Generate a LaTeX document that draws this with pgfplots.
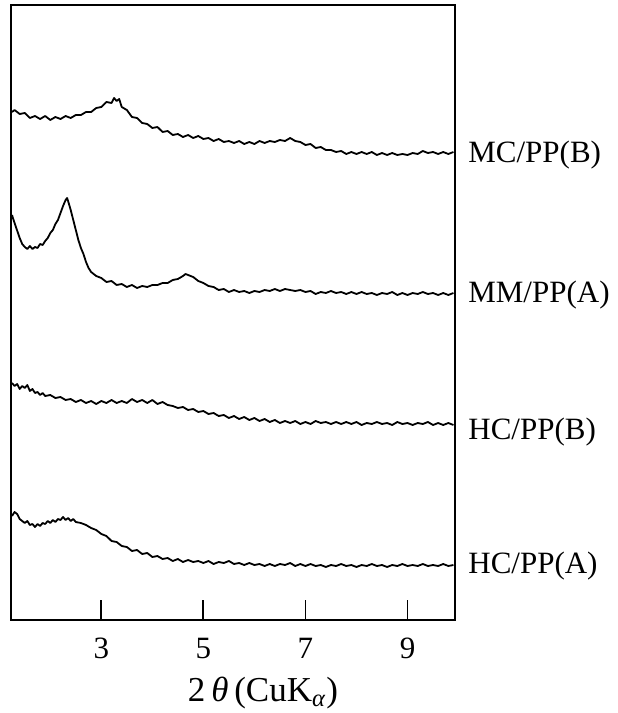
\documentclass[border=0pt]{standalone}
\usepackage{fontspec}
\setmainfont{Liberation Serif}
\usepackage{pgfplots}
\pgfplotsset{compat=1.18}

\newcommand{\lblfont}{\fontsize{15.5}{18}\selectfont}
\tikzset{trace/.style={black, no marks, line width=0.9pt, line join=round}}

\begin{document}
\begin{tikzpicture}
\path[use as bounding box] (-5.5pt,-46.5pt) rectangle (303pt,310pt);
\begin{axis}[
    at={(0,0)}, anchor=south west,
    scale only axis,
    width=222pt, height=307.5pt,
    xmin=1.23, xmax=9.93,
    ymin=80, ymax=695,
    xtick={3,5,7,9},
    ytick=\empty,
    xtick pos=left,
    tick align=inside,
    major tick length=10pt,
    tick style={line width=0.9pt, black},
    axis line style={line width=1pt},
    /pgf/number format/assume math mode=true,
    ticklabel style={font=\lblfont},
    xticklabel style={yshift=-5.5pt},
    xlabel={2\,\textit{θ}\,(CuK\textsubscript{\textit{α}})},
    xlabel style={font=\fontsize{17.5}{20}\selectfont, yshift=-2pt, xshift=15pt},
    clip=false,
]
% MC/PP(B)
\addplot[trace] coordinates {
(1.25,588) (1.3,590) (1.4,586) (1.5,587) (1.6,582) (1.7,584) (1.8,581) (1.9,584) (2.0,580) (2.1,583)
(2.2,581) (2.3,584) (2.4,582) (2.5,585) (2.6,585) (2.7,588) (2.8,588) (2.9,592) (3.0,593) (3.1,598)
(3.2,597) (3.25,602) (3.3,599) (3.35,601) (3.4,593) (3.5,590) (3.6,583) (3.7,582) (3.8,577) (3.9,576)
(4.0,572) (4.1,573) (4.2,568) (4.3,569) (4.4,565) (4.5,566) (4.6,563) (4.7,565) (4.8,562) (4.9,564)
(5.0,561) (5.1,562) (5.2,559) (5.3,561) (5.4,558) (5.5,559) (5.6,557) (5.7,559) (5.8,556) (5.9,558)
(6.0,556) (6.1,559) (6.2,557) (6.3,559) (6.4,558) (6.5,560) (6.6,559) (6.7,562) (6.8,559) (6.9,558)
(7.0,555) (7.1,556) (7.2,552) (7.3,553) (7.4,550) (7.5,550) (7.6,548) (7.7,549) (7.8,546) (7.9,548)
(8.0,546) (8.1,548) (8.2,546) (8.3,548) (8.4,545) (8.5,547) (8.6,545) (8.7,547) (8.8,545) (8.9,546)
(9.0,545) (9.1,547) (9.2,546) (9.3,549) (9.4,547) (9.5,548) (9.6,546) (9.7,548) (9.8,546) (9.9,548)
};
% MM/PP(A)
\addplot[trace] coordinates {
(1.25,485) (1.28,480) (1.32,474) (1.36,468) (1.4,462) (1.45,456) (1.5,453) (1.55,451) (1.6,454) (1.65,451)
(1.7,453) (1.75,452) (1.8,456) (1.85,455) (1.9,459) (1.95,462) (2.0,467) (2.05,470) (2.1,476) (2.15,480)
(2.2,487) (2.25,494) (2.3,500) (2.33,502) (2.36,497) (2.4,490) (2.45,480) (2.5,470) (2.55,460) (2.6,452)
(2.65,446) (2.7,438) (2.75,432) (2.8,428) (2.9,424) (3.0,422) (3.1,418) (3.2,419) (3.3,415) (3.4,416)
(3.5,413) (3.6,415) (3.7,412) (3.8,414) (3.9,413) (4.0,415) (4.1,415) (4.2,417) (4.3,417) (4.4,420)
(4.5,421) (4.6,424) (4.65,426) (4.7,425) (4.8,423) (4.9,419) (5.0,417) (5.1,414) (5.2,413) (5.3,410)
(5.4,411) (5.5,408) (5.6,410) (5.7,408) (5.8,409) (5.9,407) (6.0,409) (6.1,408) (6.2,410) (6.3,409)
(6.4,411) (6.5,409) (6.6,411) (6.7,410) (6.8,409) (6.9,410) (7.0,408) (7.1,409) (7.2,406) (7.3,408)
(7.4,407) (7.5,409) (7.6,407) (7.7,408) (7.8,406) (7.9,408) (8.0,406) (8.1,408) (8.2,406) (8.3,407)
(8.4,405) (8.5,407) (8.6,406) (8.7,408) (8.8,405) (8.9,407) (9.0,405) (9.1,407) (9.2,406) (9.3,408)
(9.4,406) (9.5,407) (9.6,405) (9.7,407) (9.8,405) (9.9,407)
};
% HC/PP(B)
\addplot[trace] coordinates {
(1.25,317) (1.3,314) (1.35,316) (1.4,311) (1.45,314) (1.5,312) (1.55,315) (1.6,309) (1.65,311) (1.7,307)
(1.75,308) (1.8,305) (1.85,307) (1.9,304) (2.0,305) (2.1,302) (2.2,303) (2.3,300) (2.4,301) (2.5,298)
(2.6,300) (2.7,297) (2.8,299) (2.9,296) (3.0,299) (3.1,297) (3.2,300) (3.3,297) (3.4,299) (3.5,297)
(3.6,301) (3.7,298) (3.8,300) (3.9,297) (4.0,300) (4.1,296) (4.2,298) (4.3,295) (4.4,294) (4.5,292)
(4.6,293) (4.7,290) (4.8,291) (4.9,288) (5.0,289) (5.1,286) (5.2,287) (5.3,284) (5.4,285) (5.5,282)
(5.6,284) (5.7,281) (5.8,283) (5.9,280) (6.0,282) (6.1,279) (6.2,281) (6.3,278) (6.4,280) (6.5,277)
(6.6,279) (6.7,277) (6.8,279) (6.9,276) (7.0,278) (7.1,276) (7.2,279) (7.3,277) (7.4,278) (7.5,276)
(7.6,278) (7.7,276) (7.8,278) (7.9,276) (8.0,278) (8.1,275) (8.2,277) (8.3,276) (8.4,278) (8.5,276)
(8.6,277) (8.7,275) (8.8,278) (8.9,276) (9.0,277) (9.1,275) (9.2,277) (9.3,276) (9.4,278) (9.5,275)
(9.6,277) (9.7,275) (9.8,277) (9.9,275)
};
% HC/PP(A)
\addplot[trace] coordinates {
(1.25,184) (1.3,188) (1.35,186) (1.4,181) (1.45,179) (1.5,177) (1.55,179) (1.6,175) (1.65,176) (1.7,173)
(1.75,176) (1.8,174) (1.85,177) (1.9,176) (1.95,179) (2.0,177) (2.05,180) (2.1,178) (2.15,181) (2.2,180)
(2.25,183) (2.3,180) (2.35,182) (2.4,179) (2.45,181) (2.5,178) (2.6,177) (2.7,175) (2.8,172) (2.9,170)
(3.0,166) (3.1,164) (3.2,159) (3.3,158) (3.4,154) (3.5,153) (3.6,149) (3.7,150) (3.8,146) (3.9,147)
(4.0,143) (4.1,144) (4.2,141) (4.3,142) (4.4,139) (4.5,141) (4.6,138) (4.7,140) (4.8,138) (4.9,139)
(5.0,137) (5.1,139) (5.2,136) (5.3,138) (5.4,137) (5.5,139) (5.6,136) (5.7,137) (5.8,135) (5.9,137)
(6.0,135) (6.1,136) (6.2,134) (6.3,136) (6.4,134) (6.5,136) (6.6,135) (6.7,137) (6.8,134) (6.9,136)
(7.0,134) (7.1,136) (7.2,134) (7.3,135) (7.4,133) (7.5,135) (7.6,134) (7.7,136) (7.8,134) (7.9,135)
(8.0,133) (8.1,135) (8.2,134) (8.3,136) (8.4,134) (8.5,135) (8.6,133) (8.7,135) (8.8,134) (8.9,136)
(9.0,134) (9.1,135) (9.2,134) (9.3,136) (9.4,134) (9.5,135) (9.6,134) (9.7,136) (9.8,134) (9.9,135)
};
% sample names to the right of the frame
\node[anchor=west, font=\lblfont, inner sep=0pt, xshift=6.5pt] at (axis cs:9.93,545) {MC/PP(B)};
\node[anchor=west, font=\lblfont, inner sep=0pt, xshift=6.5pt] at (axis cs:9.93,405) {MM/PP(A)};
\node[anchor=west, font=\lblfont, inner sep=0pt, xshift=6.5pt] at (axis cs:9.93,268) {HC/PP(B)};
\node[anchor=west, font=\lblfont, inner sep=0pt, xshift=6.5pt] at (axis cs:9.93,134) {HC/PP(A)};
\end{axis}
\end{tikzpicture}
\end{document}
